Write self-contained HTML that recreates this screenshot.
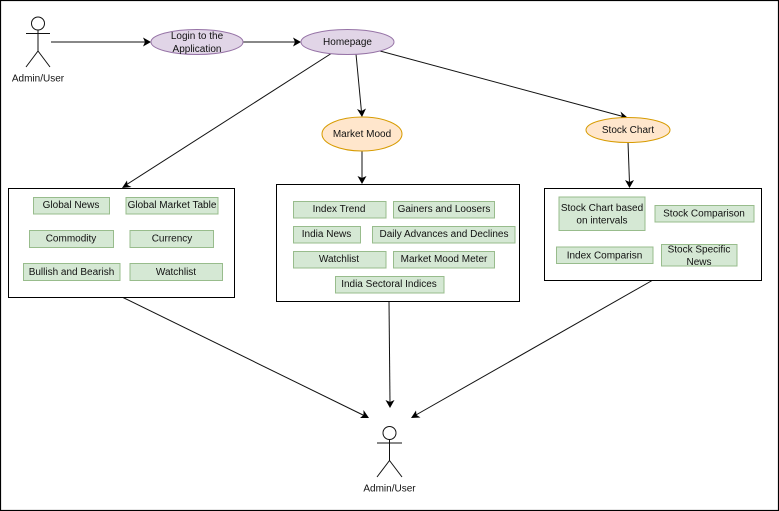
<!DOCTYPE html>
<html><head><meta charset="utf-8"><style>
html,body{margin:0;padding:0;background:#fff}
svg{display:block;filter:blur(.25px)}
text{font-family:"Liberation Sans",sans-serif;font-size:10px;fill:#111;text-anchor:middle}
.g{fill:#d5e8d4;stroke:#98bc8c;stroke-width:1}
.b{fill:#fff;stroke:#000;stroke-width:1}
.l{stroke:#111;stroke-width:1;fill:none}
.a{fill:#000}
</style></head><body>
<svg width="779" height="511" viewBox="0 0 779 511" xmlns="http://www.w3.org/2000/svg">
<rect x="0.5" y="0.5" width="778" height="510" fill="#fff" stroke="#000" stroke-width="1.2"/>

<!-- actors -->
<g class="l"><circle cx="38" cy="23.5" r="6.5"/><path d="M38 30V51M26 33.5H50M38 51L26 67M38 51L50 67"/></g>
<text x="38" y="81.5">Admin/User</text>
<g class="l"><circle cx="389.5" cy="433" r="6.5"/><path d="M389.5 439.5V460.5M377 443H402M389.5 460.5L377 477M389.5 460.5L402 477"/></g>
<text x="389.5" y="491.5">Admin/User</text>

<!-- connectors -->
<g class="l">
<path d="M51 42H146"/><path d="M243 42H296"/>
<path d="M332 53L126 185"/><path d="M356 54L361.5 112"/><path d="M380 51L623 116.5"/>
<path d="M362 151V179"/><path d="M628 142L629.5 183"/>
<path d="M122 297L364 415.5"/><path d="M389 301L390 403"/><path d="M653 280L415 415.5"/>
</g>
<g class="a">
<path d="M151 42L143 37.5L145 42L143 46.5Z"/>
<path d="M301 42L293 37.5L295 42L293 46.5Z"/>
<path d="M122 188L127 180.5L127.5 185L131.5 187Z"/>
<path d="M362 117L357 109L361.5 111L366 108.5Z"/>
<path d="M628 118L619 120L622 116L620.5 111.5Z"/>
<path d="M362 184L357.5 176L362 178L366.5 176Z"/>
<path d="M629.5 188L625 180L629.5 182L634 180Z"/>
<path d="M369 418L360 418L363.5 415L363.5 410Z"/>
<path d="M390 408L385.5 400L390 402L394.5 400Z"/>
<path d="M411 418L416 410.5L416.5 415L420.5 417.5Z"/>
</g>

<!-- ellipses -->
<ellipse cx="197" cy="42" rx="46" ry="12.5" fill="#e1d5e7" stroke="#9673a6"/>
<text x="197" y="39">Login to the</text><text x="197" y="52">Application</text>
<ellipse cx="347.5" cy="42" rx="46.5" ry="12.5" fill="#e1d5e7" stroke="#9673a6"/>
<text x="347.5" y="45">Homepage</text>
<ellipse cx="362" cy="134" rx="40" ry="17" fill="#ffe6cc" stroke="#d79b00"/>
<text x="362" y="137">Market Mood</text>
<ellipse cx="628" cy="130" rx="42" ry="12.5" fill="#ffe6cc" stroke="#d79b00"/>
<text x="628" y="133">Stock Chart</text>

<!-- container 1 -->
<rect class="b" x="8.5" y="188.5" width="226" height="109"/>
<rect class="g" x="33.5" y="197.5" width="76" height="16.5"/><text x="71" y="208">Global News</text>
<rect class="g" x="126" y="197.5" width="92" height="16.5"/><text x="172" y="208">Global Market Table</text>
<rect class="g" x="29.5" y="230.5" width="84" height="17"/><text x="71" y="241.5">Commodity</text>
<rect class="g" x="130" y="230.5" width="83.5" height="17"/><text x="172" y="241.5">Currency</text>
<rect class="g" x="23.5" y="263.5" width="96.5" height="17"/><text x="71.5" y="275">Bullish and Bearish</text>
<rect class="g" x="130" y="263.5" width="92.5" height="17"/><text x="176" y="275">Watchlist</text>

<!-- container 2 -->
<rect class="b" x="276.5" y="184.5" width="243" height="117"/>
<rect class="g" x="293.5" y="201.5" width="92.5" height="16.5"/><text x="339" y="212">Index Trend</text>
<rect class="g" x="393.5" y="201.5" width="101" height="16.5"/><text x="444" y="212">Gainers and Loosers</text>
<rect class="g" x="293.5" y="226.5" width="67" height="16.5"/><text x="326.5" y="237">India News</text>
<rect class="g" x="372.5" y="226.5" width="142.5" height="16.5"/><text x="444" y="237">Daily Advances and Declines</text>
<rect class="g" x="293.5" y="251.5" width="92.5" height="16.5"/><text x="339" y="262">Watchlist</text>
<rect class="g" x="393.5" y="251.5" width="101" height="16.5"/><text x="444" y="262">Market Mood Meter</text>
<rect class="g" x="335.5" y="276.5" width="108.5" height="16.5"/><text x="389" y="287">India Sectoral Indices</text>

<!-- container 3 -->
<rect class="b" x="544.5" y="188.5" width="217" height="92"/>
<rect class="g" x="559" y="197" width="86" height="33.5"/><text x="602" y="211">Stock Chart based</text><text x="602" y="223.5">on intervals</text>
<rect class="g" x="655" y="205.5" width="99" height="16.5"/><text x="704" y="216.5">Stock Comparison</text>
<rect class="g" x="556.5" y="247" width="96.5" height="16.5"/><text x="604.5" y="258.5">Index Comparisn</text>
<rect class="g" x="661.5" y="244.5" width="75.5" height="21.5"/><text x="699" y="252.5">Stock Specific</text><text x="699" y="265">News</text>
</svg>
</body></html>
